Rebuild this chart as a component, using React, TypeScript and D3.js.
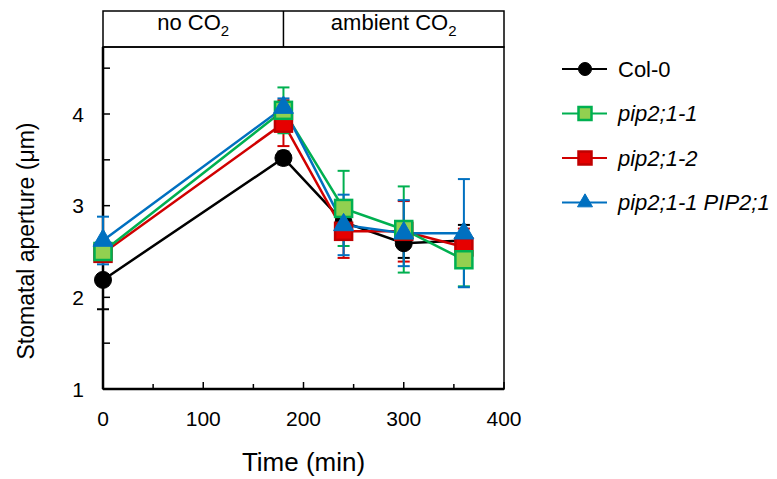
import React, { useEffect, useRef } from 'react';
import * as d3 from 'd3';

// time points (min)
const times = [0, 180, 240, 300, 360];

// stomatal aperture means and errors per line
const col0 = [2.19, 3.52, 2.82, 2.59, 2.62];
const col0Err = [0.32, 0.07, 0.15, 0.16, 0.17];
const pip1 = [2.5, 4.04, 2.97, 2.74, 2.41];
const pip1Err = [0.08, 0.25, 0.41, 0.47, 0.29];
const pip2 = [2.48, 3.9, 2.72, 2.72, 2.55];
const pip2Err = [0.08, 0.25, 0.29, 0.33, 0.2];
const comp = [2.62, 4.07, 2.79, 2.7, 2.7];
const compErr = [0.26, 0.1, 0.33, 0.36, 0.59];

const seriesNames = ['Col-0', 'pip2;1-1', 'pip2;1-2', 'pip2;1-1 PIP2;1'];
const xTicks = [0, 100, 200, 300, 400];
const yTicks = [1, 2, 3, 4];
const periods = [
  { label: 'no CO', from: 0, to: 180 },
  { label: 'ambient CO', from: 180, to: 400 },
];

const FONT = '"Liberation Sans", Arial, sans-serif';

const App = () => {
  const svgRef = useRef<SVGSVGElement>(null);

  useEffect(() => {
    if (!svgRef.current) return;
    const svg = d3.select(svgRef.current);
    svg.selectAll('*').remove();

    const left = 103, right = 504, bottom = 389, plotTop = 47, headTop = 11;

    const x = d3.scaleLinear().domain([0, 400]).range([left, right]);
    const y = d3.scaleLinear().domain([1, 4]).range([bottom, 114]);

    const series = [
      { name: seriesNames[0], vals: col0, err: col0Err, line: '#000000', fill: '#000000', stroke: '#000000', shape: 'circle', italic: false },
      { name: seriesNames[1], vals: pip1, err: pip1Err, line: '#00b050', fill: '#92d050', stroke: '#00b050', shape: 'square', italic: true },
      { name: seriesNames[2], vals: pip2, err: pip2Err, line: '#d00000', fill: '#e60000', stroke: '#c00000', shape: 'square', italic: true },
      { name: seriesNames[3], vals: comp, err: compErr, line: '#0070c0', fill: '#0070c0', stroke: '#0070c0', shape: 'triangle', italic: true },
    ];
    // drawing order: black, red, green, blue
    const drawOrder = [0, 2, 1, 3];

    // header box
    svg.append('rect')
      .attr('x', left).attr('y', headTop)
      .attr('width', right - left).attr('height', plotTop - headTop)
      .attr('fill', 'none').attr('stroke', '#000').attr('stroke-width', 1.5);
    svg.append('line')
      .attr('x1', x(180)).attr('x2', x(180))
      .attr('y1', headTop).attr('y2', plotTop)
      .attr('stroke', '#000').attr('stroke-width', 1.5);
    periods.forEach(p => {
      const t = svg.append('text')
        .attr('x', (x(p.from) + x(p.to)) / 2)
        .attr('y', 30)
        .attr('text-anchor', 'middle')
        .attr('font-family', FONT)
        .attr('font-size', 22)
        .text(p.label);
      t.append('tspan').attr('font-size', 15).attr('dy', 6).text('2');
    });

    // plot frame
    svg.append('rect')
      .attr('x', left).attr('y', plotTop)
      .attr('width', right - left).attr('height', bottom - plotTop)
      .attr('fill', 'none').attr('stroke', '#000').attr('stroke-width', 1.5);
    svg.append('line')
      .attr('x1', left).attr('x2', left).attr('y1', plotTop).attr('y2', bottom)
      .attr('stroke', '#000').attr('stroke-width', 2.5);
    svg.append('line')
      .attr('x1', left).attr('x2', right).attr('y1', bottom).attr('y2', bottom)
      .attr('stroke', '#000').attr('stroke-width', 2.5);

    // x ticks (inward)
    d3.range(0, 401, 50).forEach(v => {
      svg.append('line')
        .attr('x1', x(v)).attr('x2', x(v))
        .attr('y1', bottom).attr('y2', bottom - (v % 100 === 0 ? 7 : 5))
        .attr('stroke', '#000').attr('stroke-width', 1.5);
    });
    xTicks.forEach(v => {
      svg.append('text')
        .attr('x', x(v)).attr('y', 426)
        .attr('text-anchor', 'middle')
        .attr('font-family', FONT).attr('font-size', 21)
        .text(v);
    });

    // y ticks (inward)
    d3.range(1, 4.51, 0.5).forEach(v => {
      svg.append('line')
        .attr('x1', left).attr('x2', left + 7)
        .attr('y1', y(v)).attr('y2', y(v))
        .attr('stroke', '#000').attr('stroke-width', 1.5);
    });
    yTicks.forEach(v => {
      svg.append('text')
        .attr('x', 84).attr('y', y(v))
        .attr('dy', '0.36em')
        .attr('text-anchor', 'end')
        .attr('font-family', FONT).attr('font-size', 21)
        .text(v);
    });

    // axis titles
    svg.append('text')
      .attr('x', (left + right) / 2).attr('y', 471)
      .attr('text-anchor', 'middle')
      .attr('font-family', FONT).attr('font-size', 26)
      .text('Time (min)');
    svg.append('text')
      .attr('transform', `translate(34,241) rotate(-90)`)
      .attr('text-anchor', 'middle')
      .attr('font-family', FONT).attr('font-size', 23)
      .text('Stomatal aperture (μm)');

    const drawMarker = (g: any, shape: string, cx: number, cy: number, size: number, s: any) => {
      if (shape === 'circle') {
        g.append('circle').attr('cx', cx).attr('cy', cy).attr('r', size / 2)
          .attr('fill', s.fill).attr('stroke', s.stroke).attr('stroke-width', 1);
      } else if (shape === 'square') {
        g.append('rect')
          .attr('x', cx - size / 2).attr('y', cy - size / 2)
          .attr('width', size).attr('height', size)
          .attr('fill', s.fill).attr('stroke', s.stroke).attr('stroke-width', 2.5);
      } else {
        // size = side length of the triangle
        const sym = d3.symbol().type(d3.symbolTriangle).size((Math.sqrt(3) / 4) * size * size);
        g.append('path')
          .attr('transform', `translate(${cx},${cy})`)
          .attr('d', sym())
          .attr('fill', s.fill).attr('stroke', s.stroke).attr('stroke-width', 1);
      }
    };

    const line = d3.line<number>()
      .x((_, i) => x(times[i]))
      .y(d => y(d));

    const plot = svg.append('g');
    drawOrder.forEach(k => {
      const s = series[k];
      // error bars
      s.vals.forEach((v, i) => {
        const cx = x(times[i]);
        const y1 = y(v + s.err[i]), y2 = y(v - s.err[i]);
        plot.append('line').attr('x1', cx).attr('x2', cx).attr('y1', y1).attr('y2', y2)
          .attr('stroke', s.line).attr('stroke-width', 2);
        [y1, y2].forEach(yy => {
          plot.append('line').attr('x1', cx - 6).attr('x2', cx + 6).attr('y1', yy).attr('y2', yy)
            .attr('stroke', s.line).attr('stroke-width', 2);
        });
      });
      plot.append('path')
        .attr('d', line(s.vals))
        .attr('fill', 'none')
        .attr('stroke', s.line)
        .attr('stroke-width', 2.5);
    });
    drawOrder.forEach(k => {
      const s = series[k];
      s.vals.forEach((v, i) => {
        drawMarker(plot, s.shape, x(times[i]), y(v), s.shape === 'triangle' ? 20 : 17, s);
      });
    });

    // legend
    const leg = svg.append('g');
    series.forEach((s, i) => {
      const ly = 69 + i * 44.5;
      leg.append('line').attr('x1', 562).attr('x2', 607).attr('y1', ly).attr('y2', ly)
        .attr('stroke', s.line).attr('stroke-width', 2);
      drawMarker(leg, s.shape, 585, ly, s.shape === 'triangle' ? 15 : 13, s);
      leg.append('text')
        .attr('x', 618).attr('y', ly)
        .attr('dy', '0.36em')
        .attr('font-family', FONT).attr('font-size', 22)
        .attr('font-style', s.italic ? 'italic' : 'normal')
        .text(s.name);
    });
  }, []);

  return (
    <svg
      ref={svgRef}
      width={777}
      height={479}
      style={{ position: 'absolute', left: 0, top: 0, background: '#fff' }}
    />
  );
};

export default App;
